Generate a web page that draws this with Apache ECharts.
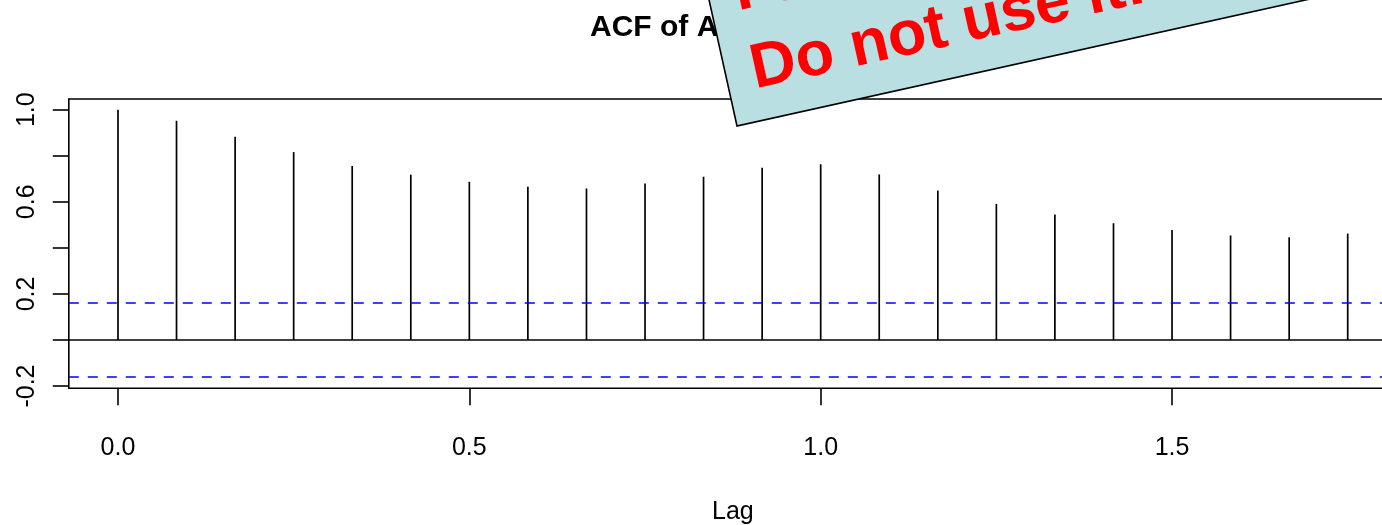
<!DOCTYPE html>
<html>
<head>
<meta charset="utf-8">
<script src="https://cdn.jsdelivr.net/npm/echarts@6/dist/echarts.min.js"></script>
<style>
  html, body { margin: 0; padding: 0; background: #ffffff; }
  #chart { width: 1382px; height: 525px; }
</style>
</head>
<body>
<div id="chart"></div>
<script>
// ---- data ----
const lags = [0.0000, 0.0833, 0.1667, 0.2500, 0.3333, 0.4167, 0.5000, 0.5833,
              0.6667, 0.7500, 0.8333, 0.9167, 1.0000, 1.0833, 1.1667, 1.2500,
              1.3333, 1.4167, 1.5000, 1.5833, 1.6667, 1.7500];
const acfValues = [1.000, 0.952, 0.883, 0.816, 0.756, 0.718, 0.687, 0.665,
                   0.658, 0.680, 0.709, 0.748, 0.763, 0.719, 0.649, 0.591,
                   0.545, 0.507, 0.478, 0.454, 0.446, 0.462];
const ciUpper = 0.1633;
const ciLower = -0.1633;
const xTickValues = [0.0, 0.5, 1.0, 1.5];
const yTickValues = [-0.2, 0.0, 0.2, 0.4, 0.6, 0.8, 1.0];
const yLabelValues = [-0.2, 0.2, 0.6, 1.0];
const titleText = 'ACF of AirPassengers';
const xAxisTitle = 'Lag';
const stickerLines = ['Fake data!', 'Do not use it!'];

const FONT = 'Liberation Sans, Arial, Helvetica, sans-serif';
const chart = echarts.init(document.getElementById('chart'), null, { renderer: 'canvas' });

const rot = 12.5 * Math.PI / 180;

const option = {
  backgroundColor: '#ffffff',
  animation: false,
  title: {
    text: titleText,
    left: 585,
    top: 8,
    z: 1,
    textStyle: { fontFamily: FONT, fontSize: 30, fontWeight: 'bold', color: '#000000' }
  },
  grid: {
    left: 68.8, top: 99, right: -14.9, bottom: 136.7,
    show: true, borderColor: '#000000', borderWidth: 1.6,
    backgroundColor: 'transparent',
    containLabel: false,
    outerBoundsMode: 'none'
  },
  xAxis: {
    type: 'value',
    min: -0.07, max: 1.82,
    name: xAxisTitle,
    nameLocation: 'middle',
    nameGap: 111,
    nameTextStyle: { fontFamily: FONT, fontSize: 25, color: '#000000' },
    axisLine: { show: false, onZero: false },
    splitLine: { show: false },
    axisTick: { show: true, length: 17, customValues: xTickValues,
                lineStyle: { color: '#000000', width: 1.6 } },
    axisLabel: { show: true, customValues: xTickValues, margin: 47,
                 fontFamily: FONT, fontSize: 25, color: '#000000',
                 formatter: v => v.toFixed(1) }
  },
  yAxis: {
    type: 'value',
    min: -0.2099, max: 1.0465,
    axisLine: { show: false, onZero: false },
    splitLine: { show: false },
    axisTick: { show: true, length: 16, customValues: yTickValues,
                lineStyle: { color: '#000000', width: 1.6 } },
    axisLabel: { show: true, customValues: yLabelValues, rotate: 90, margin: 29,
                 fontFamily: FONT, fontSize: 25, color: '#000000',
                 formatter: v => v.toFixed(1) }
  },
  series: [{
    type: 'bar',
    data: lags.map((l, i) => [l, acfValues[i]]),
    barWidth: 1.7,
    itemStyle: { color: '#000000' },
    silent: true,
    markLine: {
      silent: true,
      symbol: ['none', 'none'],
      label: { show: false },
      data: [
        { yAxis: 0, lineStyle: { color: '#000000', width: 1.6, type: 'solid' } },
        { yAxis: ciUpper, lineStyle: { color: '#0000ff', width: 1.6, type: [10, 9] } },
        { yAxis: ciLower, lineStyle: { color: '#0000ff', width: 1.6, type: [10, 9] } }
      ]
    }
  }],
  graphic: [{
    type: 'group',
    x: 737, y: 126,
    rotation: rot,
    z: 100,
    zlevel: 1,
    children: [
      { type: 'rect', z: 100, zlevel: 1, shape: { x: 0, y: -320, width: 760, height: 320 },
        style: { fill: '#b9dfe3', stroke: '#000000', lineWidth: 1.6 } },
      { type: 'text', z: 101, zlevel: 1, x: 26, y: -130,
        style: { text: stickerLines[0], fill: '#ff0000', font: 'bold 63px ' + FONT,
                 textAlign: 'left', textVerticalAlign: 'middle', verticalAlign: 'middle' } },
      { type: 'text', z: 101, zlevel: 1, x: 26, y: -50,
        style: { text: stickerLines[1], fill: '#ff0000', font: 'bold 63px ' + FONT,
                 textAlign: 'left', textVerticalAlign: 'middle', verticalAlign: 'middle' } }
    ]
  }]
};
chart.setOption(option);
</script>
</body>
</html>
